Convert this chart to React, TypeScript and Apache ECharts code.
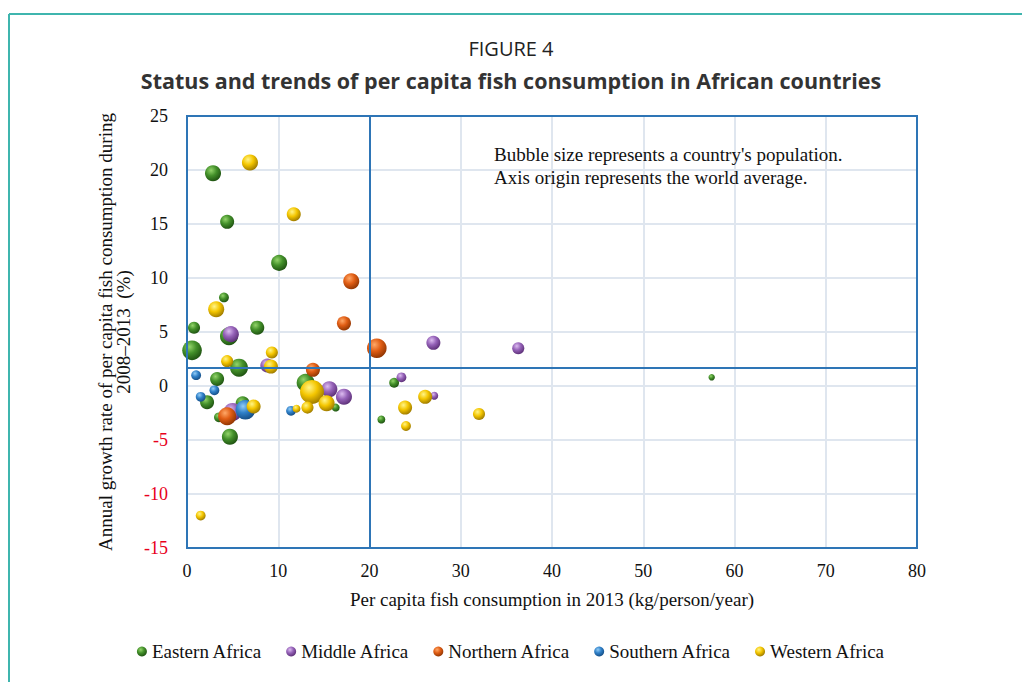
import React, { useEffect, useRef } from "react";
import * as echarts from "echarts";

// Per capita fish consumption 2013 (kg/person/year), growth 2008–2013 (%), population (millions, est.)
const easternX = [2.85, 4.4, 10.1, 4.05, 0.77, 7.7, 4.6, 0.55, 5.7, 3.3, 2.2, 6.1, 3.5, 4.7, 13.0, 16.3, 22.7, 21.3, 57.5];
const easternY = [19.7, 15.2, 11.4, 8.2, 5.4, 5.4, 4.6, 3.3, 1.7, 0.65, -1.5, -1.6, -2.9, -4.7, 0.3, -2.0, 0.3, -3.1, 0.8];
const easternPop = [55, 35, 55, 8, 20, 35, 78, 100, 78, 35, 35, 35, 8, 55, 78, 2, 8, 2, 0.1];

const middleX = [4.8, 5.0, 15.6, 17.2, 27.0, 36.3, 23.5, 27.1, 8.8];
const middleY = [4.8, -2.4, -0.3, -1.0, 4.0, 3.5, 0.8, -0.9, 1.9];
const middlePop = [55, 78, 55, 55, 35, 20, 8, 2, 35];

const northernX = [18.0, 17.2, 20.8, 13.8, 4.4];
const northernY = [9.7, 5.8, 3.5, 1.5, -2.8];
const northernPop = [55, 35, 100, 35, 78];

const southernX = [1.0, 3.0, 1.5, 6.4, 11.4];
const southernY = [1.0, -0.4, -1.0, -2.2, -2.3];
const southernPop = [8, 8, 8, 100, 8];

const westernX = [6.9, 11.7, 3.2, 4.4, 9.3, 9.2, 7.3, 13.7, 12.0, 13.2, 15.3, 23.9, 24.0, 26.1, 32.0, 1.5];
const westernY = [20.7, 15.9, 7.1, 2.3, 3.1, 1.8, -1.9, -0.55, -2.1, -2.0, -1.6, -2.0, -3.7, -1.0, -2.6, -12.0];
const westernPop = [55, 35, 55, 20, 20, 35, 35, 175, 2, 20, 55, 35, 8, 35, 20, 8];

const worldAvgX = 20;
const worldAvgY = 1.7;

const regions = ["Eastern Africa", "Middle Africa", "Northern Africa", "Southern Africa", "Western Africa"];
const notes = ["Bubble size represents a country's population.", "Axis origin represents the world average."];

const SERIF = "'Liberation Serif', 'Times New Roman', serif";
const TITLE_FONT = "'Open Sans', sans-serif";

function sphere(light: string, base: string, dark: string) {
  return {
    type: "radial",
    x: 0.38,
    y: 0.32,
    r: 0.75,
    colorStops: [
      { offset: 0, color: light },
      { offset: 0.45, color: base },
      { offset: 1, color: dark },
    ],
  };
}

const palettes = [
  sphere("#93d46a", "#43902a", "#1a4a0e"),
  sphere("#dcbcf0", "#9562b8", "#55296f"),
  sphere("#ffa868", "#e05d14", "#853000"),
  sphere("#92ccf6", "#2f80c8", "#12477c"),
  sphere("#fff488", "#f4c600", "#927000"),
];

function pack(xs: number[], ys: number[], pops: number[]) {
  return xs.map((x, i) => [x, ys[i], pops[i]]);
}

const GRID = { left: 187, top: 116, width: 730, height: 432 };

export default function App() {
  const ref = useRef<HTMLDivElement>(null);
  useEffect(() => {
    if (!ref.current) return;
    const chart = echarts.init(ref.current, null, { renderer: "svg" });
    const sets = [
      pack(easternX, easternY, easternPop),
      pack(middleX, middleY, middlePop),
      pack(northernX, northernY, northernPop),
      pack(southernX, southernY, southernPop),
      pack(westernX, westernY, westernPop),
    ];
    const bubbleSeries = regions.map((name, i) => ({
      name,
      type: "scatter",
      data: sets[i],
      symbolSize: (v: number[]) => 2 * (3 + 0.68 * Math.sqrt(v[2])),
      itemStyle: { color: palettes[i], opacity: 1 },
      z: 3,
    }));
    chart.setOption({
      animation: false,
      backgroundColor: "#ffffff",
      title: [
        {
          text: "FIGURE 4",
          left: "center",
          top: 33,
          textStyle: { fontFamily: TITLE_FONT, fontSize: 20, fontWeight: "normal", color: "#222" },
        },
        {
          text: "Status and trends of per capita fish consumption in African countries",
          left: "center",
          top: 64,
          textStyle: { fontFamily: TITLE_FONT, fontSize: 21.5, fontWeight: "bold", color: "#333" },
        },
      ],
      grid: { ...GRID, show: false },
      legend: {
        data: regions,
        bottom: 16,
        left: "center",
        icon: "circle",
        itemWidth: 10,
        itemHeight: 10,
        itemGap: 24,
        textStyle: { fontFamily: SERIF, fontSize: 19, color: "#111" },
      },
      xAxis: {
        type: "value",
        min: 0,
        max: 80,
        interval: 10,
        name: "Per capita fish consumption in 2013 (kg/person/year)",
        nameLocation: "middle",
        nameGap: 42,
        nameTextStyle: { fontFamily: SERIF, fontSize: 19, color: "#111" },
        axisLine: { show: false },
        axisTick: { show: false },
        axisLabel: { fontFamily: SERIF, fontSize: 18, color: "#111", margin: 14 },
        splitLine: { show: true, lineStyle: { color: "#dfe6ef", width: 2 } },
      },
      yAxis: {
        type: "value",
        min: -15,
        max: 25,
        interval: 5,
        name: "Annual growth rate of per capita fish consumption during\n2008–2013  (%)",
        nameLocation: "middle",
        nameRotate: 90,
        nameGap: 55,
        nameTextStyle: { fontFamily: SERIF, fontSize: 19, color: "#111", lineHeight: 18, align: "center" },
        axisLine: { show: false },
        axisTick: { show: false },
        axisLabel: {
          fontFamily: SERIF,
          fontSize: 18,
          margin: 19,
          formatter: (v: number) => (v < 0 ? `{neg|${v}}` : `{pos|${v}}`),
          rich: {
            neg: { color: "#e8001c", fontFamily: SERIF, fontSize: 18 },
            pos: { color: "#111", fontFamily: SERIF, fontSize: 18 },
          },
        },
        splitLine: { show: true, lineStyle: { color: "#dfe6ef", width: 2 } },
      },
      graphic: [
        {
          type: "line",
          shape: { x1: 9, y1: 14, x2: 1022, y2: 14 },
          style: { stroke: "#3fb5ae", lineWidth: 2 },
        },
        {
          type: "line",
          shape: { x1: 9, y1: 14, x2: 9, y2: 682 },
          style: { stroke: "#3fb5ae", lineWidth: 2 },
        },
        {
          type: "rect",
          z: 100,
          silent: true,
          shape: { x: GRID.left, y: GRID.top, width: GRID.width, height: GRID.height },
          style: { fill: "none", stroke: "#2e75b6", lineWidth: 2 },
        },
        {
          type: "text",
          z: 100,
          x: 494,
          y: 145,
          style: { text: notes[0], fontFamily: "Liberation Serif", fontSize: 19, fill: "#111" },
        },
        {
          type: "text",
          z: 100,
          x: 494,
          y: 168,
          style: { text: notes[1], fontFamily: "Liberation Serif", fontSize: 19, fill: "#111" },
        },
      ],
      series: [
        {
          name: "World average",
          type: "scatter",
          data: [],
          z: 2,
          markLine: {
            silent: true,
            symbol: ["none", "none"],
            label: { show: false },
            lineStyle: { color: "#2e75b6", width: 2, type: "solid" },
            data: [{ xAxis: worldAvgX }, { yAxis: worldAvgY }],
          },
        },
        ...bubbleSeries,
      ],
    });
    return () => chart.dispose();
  }, []);
  return <div ref={ref} style={{ position: "fixed", left: 0, top: 0, width: 1022, height: 682 }} />;
}
